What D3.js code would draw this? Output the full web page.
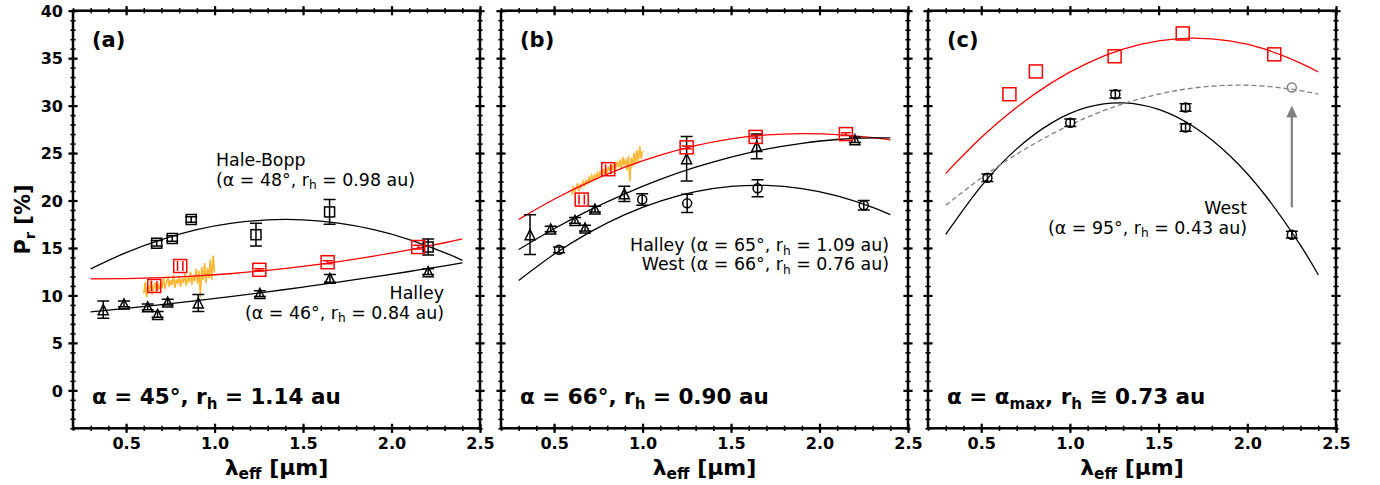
<!DOCTYPE html>
<html><head><meta charset="utf-8">
<script src="https://cdn.jsdelivr.net/npm/d3@7"></script>
<style>body{margin:0;background:#fff}svg{display:block}text{font-family:"DejaVu Sans",sans-serif}</style>
</head><body><svg id="chart" width="1380" height="485"></svg>
<script>
// ---------- data ----------
const xDomain = [0.2, 2.5];
const yDomain = [-4, 40];
const xMajor = [0.5, 1.0, 1.5, 2.0, 2.5];
const xTickLabels = ["0.5", "1.0", "1.5", "2.0", "2.5"];
const yMajor = [0, 5, 10, 15, 20, 25, 30, 35, 40];
const yTickLabels = ["0", "5", "10", "15", "20", "25", "30", "35", "40"];
const xMinorStep = 0.1, yMinorStep = 1;

const fitX = [0.3, 0.5, 0.7, 0.9, 1.1, 1.3, 1.5, 1.7, 1.9, 2.1, 2.3, 2.4];

// panel (a)
const aHBx = [0.673, 0.761, 0.868, 1.234, 1.650, 2.207];
const aHBy = [15.5, 16.0, 18.0, 16.4, 18.8, 15.1];
const aHBerr = [0.3, 0.3, 0.3, 1.2, 1.3, 0.85];
const aHalx = [0.371, 0.488, 0.622, 0.678, 0.735, 0.908, 1.256, 1.652, 2.207];
const aHaly = [8.5, 9.1, 8.8, 8.0, 9.3, 9.2, 10.2, 11.8, 12.5];
const aHalerr = [0.9, 0.3, 0.3, 0.3, 0.3, 0.9, 0.3, 0.4, 0.3];
const aRedx = [0.659, 0.806, 1.253, 1.639, 2.151];
const aRedy = [11.0, 13.1, 12.7, 13.5, 15.1];
const aRederr = [0, 0, 0.1, 0.15, 0.2];
const aRedxerr = [0.015, 0.015, 0, 0, 0];
const aHBfit = [12.80, 14.52, 15.89, 16.93, 17.61, 17.96, 17.96, 17.61, 16.93, 15.89, 14.52, 13.70];
const aRedfit = [11.75, 11.77, 11.87, 12.05, 12.31, 12.65, 13.07, 13.57, 14.15, 14.81, 15.55, 15.95];
const aHalfit = [8.26, 8.63, 9.03, 9.46, 9.91, 10.38, 10.88, 11.40, 11.95, 12.52, 13.12, 13.43];
const aSpecX = [0.600,0.608,0.616,0.624,0.632,0.640,0.648,0.656,0.664,0.672,0.680,0.688,0.696,0.704,0.712,0.720,0.728,0.736,0.744,0.752,0.760,0.768,0.776,0.784,0.792,0.800,0.808,0.816,0.824,0.832,0.840,0.848,0.856,0.864,0.872,0.880,0.888,0.896,0.904,0.912,0.920,0.928,0.936,0.944,0.952,0.960,0.968,0.976,0.984,0.992,1.000];
const aSpecY = [10.2,11.4,9.8,11.0,10.4,11.6,10.1,10.9,11.3,10.3,11.2,10.6,11.5,10.8,11.9,10.7,11.3,12.0,10.9,11.6,11.1,12.2,10.8,11.7,11.2,12.0,10.9,11.8,11.3,12.3,11.0,11.9,11.4,12.5,11.1,12.1,11.5,12.8,11.2,12.6,9.8,13.0,11.6,13.4,11.3,12.9,11.8,13.8,11.6,14.2,12.4];

// panel (b)
const bRedx = [0.656, 0.806, 1.249, 1.639, 2.149];
const bRedy = [20.1, 23.3, 25.6, 26.7, 27.0];
const bRederr = [0, 0, 0.15, 0.15, 0.15];
const bRedxerr = [0.015, 0.015, 0, 0, 0];
const bHalx = [0.364, 0.481, 0.618, 0.675, 0.731, 0.897, 1.249, 1.645, 2.200];
const bHaly = [16.4, 17.0, 17.9, 17.1, 19.1, 20.7, 24.4, 25.7, 26.4];
const bHalerr = [2.1, 0.3, 0.3, 0.3, 0.3, 0.8, 2.35, 1.3, 0.3];
const bWestx = [0.528, 0.998, 1.252, 1.650, 2.250];
const bWesty = [14.8, 20.1, 19.7, 21.3, 19.5];
const bWesterr = [0.3, 0.6, 0.95, 0.9, 0.5];
const bRedfit = [18.01, 20.13, 21.97, 23.52, 24.79, 25.78, 26.49, 26.91, 27.05, 26.95, 26.62, 26.38];
const bHalfit = [14.83, 17.02, 18.98, 20.71, 22.23, 23.51, 24.58, 25.42, 26.03, 26.43, 26.59, 26.59];
const bWestfit = [11.58, 14.33, 16.64, 18.51, 19.94, 20.93, 21.48, 21.59, 21.26, 20.49, 19.28, 18.51];
const bSpecX = aSpecX;
const bSpecY = [20.6,21.5,20.9,21.3,21.8,21.0,21.7,21.4,22.0,21.5,22.2,21.7,22.4,22.0,22.6,22.1,22.8,22.3,22.9,22.4,23.1,22.6,23.3,22.8,23.5,22.9,23.6,23.1,23.8,23.2,24.0,23.4,24.1,23.5,24.3,23.3,24.6,23.7,24.4,23.2,24.7,22.0,24.5,23.6,25.0,23.8,25.3,24.1,25.7,24.4,25.2];

// panel (c)
const cRedx = [0.659, 0.808, 1.252, 1.636, 2.152];
const cRedy = [31.2, 33.6, 35.2, 37.6, 35.4];
const cWestx = [0.535, 1.002, 1.256, 1.652, 1.652, 2.251];
const cWesty = [22.4, 28.2, 31.2, 29.8, 27.7, 16.4];
const cWesterr = [0.4, 0.4, 0.4, 0.4, 0.4, 0.35];
const cRedfit = [22.86, 26.63, 29.83, 32.45, 34.48, 35.94, 36.81, 37.10, 36.81, 35.94, 34.48, 33.54];
const cWestfit = [16.42, 21.51, 25.44, 28.21, 29.83, 30.29, 29.60, 27.75, 24.75, 20.58, 15.27, 12.17];
const cGrayfit = [19.49, 22.37, 24.88, 27.02, 28.79, 30.19, 31.21, 31.86, 32.14, 32.05, 31.58, 31.21];
const cGrayPtX = [2.251], cGrayPtY = [31.9];
const cArrowX = [2.251, 2.251], cArrowY = [19.3, 30.0];

// ---------- drawing ----------
const svg = d3.select("#chart");
const TOP = 10.7, BOTTOM = 428.3;
const RED = "#ff0000", GRAY = "#808080", ORANGE = "#ffa500";
const zip = (xs, ys) => xs.map((x, i) => [x, ys[i]]);

function rich(parent, x, y, parts, fs, opts = {}) {
  const t = parent.append("text").attr("x", x).attr("y", y)
    .attr("font-size", fs).attr("font-weight", opts.bold ? "bold" : "normal")
    .attr("text-anchor", opts.anchor || "start").attr("fill", "#000");
  if (opts.transform) t.attr("transform", opts.transform);
  let sub = false;
  parts.forEach(p => {
    const ts = t.append("tspan").text(p.t);
    if (p.sub) { ts.attr("font-size", fs * 0.7).attr("dy", fs * 0.22); sub = true; }
    else if (sub) { ts.attr("dy", -fs * 0.22); sub = false; }
  });
  return t;
}

function panel(cfg) {
  const x = d3.scaleLinear().domain(xDomain).range([cfg.left, cfg.right]);
  const y = d3.scaleLinear().domain(yDomain).range([BOTTOM, TOP]);
  const g = svg.append("g");
  const line = d3.line().x(d => x(d[0])).y(d => y(d[1])).curve(d3.curveNatural);
  const lineLin = d3.line().x(d => x(d[0])).y(d => y(d[1]));
  const clipId = "clip" + cfg.id;
  g.append("clipPath").attr("id", clipId).append("rect")
    .attr("x", cfg.left).attr("y", TOP).attr("width", cfg.right - cfg.left).attr("height", BOTTOM - TOP);
  const plot = g.append("g").attr("clip-path", `url(#${clipId})`);

  (cfg.spectra || []).forEach(s => {
    plot.append("path").attr("d", lineLin(zip(s.x, s.y))).attr("fill", "none")
      .attr("stroke", ORANGE).attr("stroke-opacity", 0.8).attr("stroke-width", 1.6);
  });
  (cfg.fits || []).forEach(f => {
    plot.append("path").attr("d", line(zip(fitX, f.y))).attr("fill", "none")
      .attr("stroke", f.color).attr("stroke-width", 1.3)
      .attr("stroke-dasharray", f.dash ? "5,3" : null);
  });

  (cfg.series || []).forEach(s => {
    const sg = plot.append("g").attr("stroke", s.color).attr("fill", "none").attr("stroke-width", 1.5);
    s.x.forEach((xv, i) => {
      const cx = x(xv), cy = y(s.y[i]);
      const e = s.err ? s.err[i] : 0;
      if (e > 0) {
        const cap = s.cap || 6;
        sg.append("line").attr("x1", cx).attr("x2", cx).attr("y1", y(s.y[i] - e)).attr("y2", y(s.y[i] + e));
        sg.append("line").attr("x1", cx - cap).attr("x2", cx + cap).attr("y1", y(s.y[i] - e)).attr("y2", y(s.y[i] - e));
        sg.append("line").attr("x1", cx - cap).attr("x2", cx + cap).attr("y1", y(s.y[i] + e)).attr("y2", y(s.y[i] + e));
      }
      const xe = s.xerr ? s.xerr[i] : 0;
      if (xe > 0) {
        const h = s.size / 2 - 1.5;
        [x(xv - xe), x(xv + xe)].forEach(px => sg.append("line").attr("x1", px).attr("x2", px).attr("y1", cy - h).attr("y2", cy + h));
      }
      const r = s.size / 2;
      if (s.shape === "square") sg.append("rect").attr("x", cx - r).attr("y", cy - r).attr("width", s.size).attr("height", s.size);
      else if (s.shape === "triangle") sg.append("path").attr("d", `M${cx},${cy - r}L${cx + r},${cy + r}L${cx - r},${cy + r}Z`);
      else sg.append("circle").attr("cx", cx).attr("cy", cy).attr("r", r);
    });
  });

  if (cfg.arrow) {
    const a = cfg.arrow;
    const x0 = x(a.x[0]), y0 = y(a.y[0]), x1 = x(a.x[1]), y1 = y(a.y[1]);
    plot.append("line").attr("x1", x0).attr("x2", x1).attr("y1", y0).attr("y2", y1 + 10)
      .attr("stroke", GRAY).attr("stroke-width", 2.2);
    plot.append("path").attr("d", `M${x1},${y1}L${x1 + 5.5},${y1 + 12}L${x1 - 5.5},${y1 + 12}Z`).attr("fill", GRAY);
  }

  // frame
  g.append("rect").attr("x", cfg.left).attr("y", TOP).attr("width", cfg.right - cfg.left).attr("height", BOTTOM - TOP)
    .attr("fill", "none").attr("stroke", "#000").attr("stroke-width", 2.5);

  // ticks
  const xMinor = d3.range(Math.round(xDomain[0] * 10), Math.round(xDomain[1] * 10) + 1).map(v => v * xMinorStep);
  const yMinor = d3.range(yDomain[0], yDomain[1] + 1).map(v => v * yMinorStep);
  function ticks(axisFn, pos, vals, len, w) {
    const ax = g.append("g").attr("transform", pos)
      .call(axisFn.tickValues(vals).tickSize(len).tickFormat(() => ""));
    ax.select(".domain").remove();
    ax.selectAll(".tick line").attr("stroke", "#000").attr("stroke-width", w);
    return ax;
  }
  const mk = (orient, scale) => orient === "b" ? d3.axisBottom(scale) : orient === "t" ? d3.axisTop(scale) : orient === "l" ? d3.axisLeft(scale) : d3.axisRight(scale);
  [["b", `translate(0,${BOTTOM})`], ["t", `translate(0,${TOP})`]].forEach(([o, tr]) => {
    [[xMinor, 2.6, 1.6], [xMajor, 4.6, 2.2]].forEach(([vals, len, w]) => {
      const ax = ticks(mk(o, x), tr, vals, len, w);
      ax.selectAll(".tick line").attr("y1", -len).attr("y2", len);
    });
  });
  [["l", `translate(${cfg.left},0)`], ["r", `translate(${cfg.right},0)`]].forEach(([o, tr]) => {
    [[yMinor, 2.6, 1.6], [yMajor, 4.6, 2.2]].forEach(([vals, len, w]) => {
      const ax = ticks(mk(o, y), tr, vals, len, w);
      ax.selectAll(".tick line").attr("x1", -len).attr("x2", len);
    });
  });
  // x tick labels
  const xl = g.append("g").attr("transform", `translate(0,${BOTTOM})`)
    .call(d3.axisBottom(x).tickValues(xMajor).tickSize(0).tickFormat((d, i) => xTickLabels[i]));
  xl.select(".domain").remove();
  xl.selectAll(".tick text").attr("y", 21).attr("dy", 0).attr("font-size", 16).attr("font-weight", "bold")
    .attr("font-family", "DejaVu Sans").attr("fill", "#000");
  if (cfg.yLabels) {
    const yl = g.append("g").attr("transform", `translate(${cfg.left},0)`)
      .call(d3.axisLeft(y).tickValues(yMajor).tickSize(0).tickFormat((d, i) => yTickLabels[i]));
    yl.select(".domain").remove();
    yl.selectAll(".tick text").attr("x", -10).attr("dy", "0.36em").attr("font-size", 16).attr("font-weight", "bold")
      .attr("font-family", "DejaVu Sans").attr("fill", "#000");
  }
  // x axis label
  const cxm = (cfg.left + cfg.right) / 2;
  rich(g, cxm, 474.5, [{ t: "λ" }, { t: "eff", sub: true }, { t: " [μm]" }], 22, { bold: true, anchor: "middle" });
  // panel label
  g.append("text").attr("x", cfg.left + 19).attr("y", 47).attr("font-size", 21).attr("font-weight", "bold").text(cfg.label);
  rich(g, cfg.left + 19, 404, cfg.bottomText, 21.5, { bold: true });
  (cfg.notes || []).forEach(n => rich(g, n.x, n.y, n.parts, 17.4, { anchor: n.anchor }));
  return { x, y };
}

panel({
  id: "a", left: 73, right: 480, label: "(a)", yLabels: true,
  spectra: [{ x: aSpecX, y: aSpecY }],
  fits: [{ y: aHBfit, color: "#000" }, { y: aRedfit, color: RED }, { y: aHalfit, color: "#000" }],
  series: [
    { x: aHBx, y: aHBy, err: aHBerr, shape: "square", size: 10, color: "#000" },
    { x: aHalx, y: aHaly, err: aHalerr, shape: "triangle", size: 10, color: "#000" },
    { x: aRedx, y: aRedy, err: aRederr, xerr: aRedxerr, shape: "square", size: 13, color: RED, cap: 5 }
  ],
  bottomText: [{ t: "α = 45°, r" }, { t: "h", sub: true }, { t: " = 1.14 au" }],
  notes: [
    { x: 216, y: 166, parts: [{ t: "Hale-Bopp" }] },
    { x: 216, y: 185.5, parts: [{ t: "(α = 48°, r" }, { t: "h", sub: true }, { t: " = 0.98 au)" }] },
    { x: 444, y: 299, anchor: "end", parts: [{ t: "Halley" }] },
    { x: 444, y: 318.5, anchor: "end", parts: [{ t: "(α = 46°, r" }, { t: "h", sub: true }, { t: " = 0.84 au)" }] }
  ]
});

panel({
  id: "b", left: 501, right: 908, label: "(b)",
  spectra: [{ x: bSpecX, y: bSpecY }],
  fits: [{ y: bRedfit, color: RED }, { y: bHalfit, color: "#000" }, { y: bWestfit, color: "#000" }],
  series: [
    { x: bHalx, y: bHaly, err: bHalerr, shape: "triangle", size: 10, color: "#000" },
    { x: bWestx, y: bWesty, err: bWesterr, shape: "circle", size: 9, color: "#000" },
    { x: bRedx, y: bRedy, err: bRederr, xerr: bRedxerr, shape: "square", size: 13, color: RED, cap: 5 }
  ],
  bottomText: [{ t: "α = 66°, r" }, { t: "h", sub: true }, { t: " = 0.90 au" }],
  notes: [
    { x: 889, y: 251, anchor: "end", parts: [{ t: "Halley (α = 65°, r" }, { t: "h", sub: true }, { t: " = 1.09 au)" }] },
    { x: 889, y: 270, anchor: "end", parts: [{ t: "West (α = 66°, r" }, { t: "h", sub: true }, { t: " = 0.76 au)" }] }
  ]
});

panel({
  id: "c", left: 928, right: 1336, label: "(c)",
  fits: [{ y: cRedfit, color: RED }, { y: cWestfit, color: "#000" }, { y: cGrayfit, color: GRAY, dash: true }],
  series: [
    { x: cRedx, y: cRedy, shape: "square", size: 13, color: RED },
    { x: cWestx, y: cWesty, err: cWesterr, shape: "circle", size: 9, color: "#000" },
    { x: cGrayPtX, y: cGrayPtY, shape: "circle", size: 9, color: GRAY }
  ],
  arrow: { x: cArrowX, y: cArrowY },
  bottomText: [{ t: "α = α" }, { t: "max", sub: true }, { t: ", r" }, { t: "h", sub: true }, { t: " ≅ 0.73 au" }],
  notes: [
    { x: 1247, y: 214, anchor: "end", parts: [{ t: "West" }] },
    { x: 1247, y: 233.5, anchor: "end", parts: [{ t: "(α = 95°, r" }, { t: "h", sub: true }, { t: " = 0.43 au)" }] }
  ]
});

// y axis label
rich(svg, 0, 0, [{ t: "P" }, { t: "r", sub: true }, { t: " [%]" }], 21,
  { bold: true, anchor: "middle", transform: "translate(30,219.5) rotate(-90)" });
</script></body></html>
